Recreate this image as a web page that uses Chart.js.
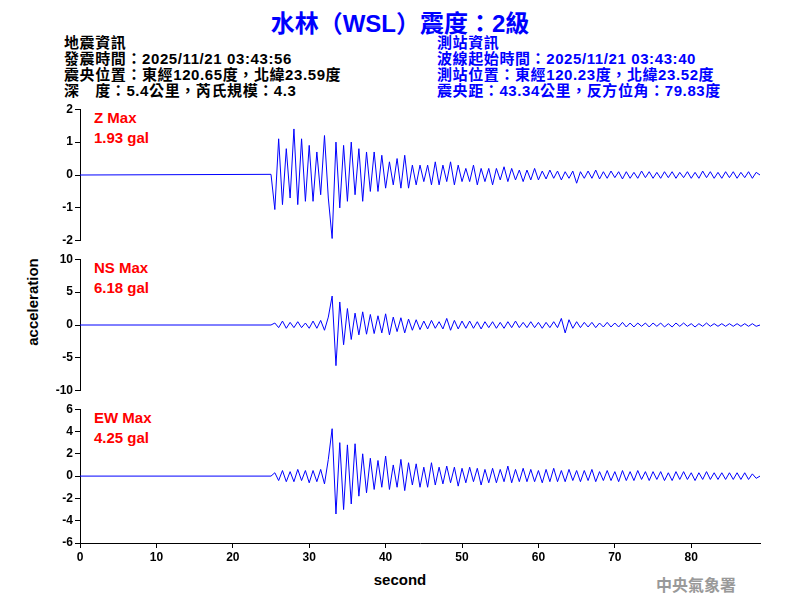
<!DOCTYPE html>
<html>
<head>
<meta charset="utf-8">
<script src="https://cdn.jsdelivr.net/npm/chart.js@4"></script>
<style>
  body { margin: 0; width: 800px; height: 600px; background: #fff; position: relative; overflow: hidden;
    font-family: "Liberation Sans", Arial, "Noto Sans CJK TC", sans-serif; }
  canvas { position: absolute; left: 0; }
  .t { position: absolute; white-space: nowrap; font-weight: bold; }
  .info { font-size: 15px; line-height: 16px; letter-spacing: 0.6px; }
  .red { color: #f00; font-size: 15px; line-height: 20px; }
</style>
</head>
<body>
<div class="t" style="left:0;width:800px;top:4px;text-align:center;color:#00f;font-size:24px;font-family:'Liberation Sans','Noto Sans CJK TC'">水林（WSL）震度：2級</div>
<div class="t info" style="left:64px;top:35px;color:#000;font-family:'Liberation Sans','Noto Sans CJK TC'">地震資訊<br>發震時間：2025/11/21 03:43:56<br>震央位置：東經120.65度，北緯23.59度<br>深　度：5.4公里，芮氏規模：4.3</div>
<div class="t info" style="left:437px;top:35px;color:#00f;font-family:'Liberation Sans','Noto Sans CJK TC'">測站資訊<br>波線起始時間：2025/11/21 03:43:40<br>測站位置：東經120.23度，北緯23.52度<br>震央距：43.34公里，反方位角：79.83度</div>
<div class="t red" style="left:94px;top:108px">Z Max<br>1.93 gal</div>
<div class="t red" style="left:94px;top:258px">NS Max<br>6.18 gal</div>
<div class="t red" style="left:94px;top:408px">EW Max<br>4.25 gal</div>
<div class="t" style="left:32px;top:302px;font-size:15px;transform:translate(-50%,-50%) rotate(-90deg)">acceleration</div>
<div class="t" style="left:400px;top:571px;font-size:15px;transform:translateX(-50%)">second</div>
<div class="t" style="left:656px;top:572px;color:#999;font-size:16px;font-family:'Noto Sans CJK TC'">中央氣象署</div>
<canvas id="cz" width="800" height="150" style="top:100px"></canvas>
<canvas id="cn" width="800" height="150" style="top:250px"></canvas>
<canvas id="ce" width="800" height="200" style="top:400px"></canvas>
<script>
// samples start at T0, one every STEP seconds
const T0 = 25.0;
const STEP = 0.5;
const X_TICKS = [0, 10, 20, 30, 40, 50, 60, 70, 80];

const zValues = [0.02,-1.05,1.1,-0.9,0.8,-0.7,1.4,-0.9,1.1,-0.8,0.9,-0.8,0.7,-0.6,1.2,-0.7,-1.93,1.0,-1.0,0.9,
  -0.8,1.0,-0.6,0.8,-0.8,0.7,-0.5,0.7,-0.5,0.6,-0.4,0.4,-0.3,0.5,-0.4,0.6,-0.4,0.3,-0.3,0.3,
  -0.2,0.3,-0.3,0.4,-0.3,0.3,-0.2,0.4,-0.3,0.3,-0.2,0.2,-0.2,0.3,-0.3,0.2,-0.2,0.2,-0.3,0.2,
  -0.15,0.25,-0.2,0.2,-0.15,0.15,-0.2,0.15,-0.15,0.2,-0.15,0.12,-0.12,0.15,-0.1,0.12,-0.15,0.1,-0.1,0.12,
  -0.25,0.1,-0.1,0.12,-0.1,0.15,-0.12,0.1,-0.1,0.12,-0.08,0.1,-0.12,0.1,-0.1,0.08,-0.1,0.12,-0.08,0.1,
  -0.1,0.08,-0.1,0.1,-0.08,0.1,-0.1,0.08,-0.08,0.1,-0.1,0.08,-0.1,0.12,-0.08,0.1,-0.1,0.08,-0.1,0.1,
  -0.08,0.1,-0.1,0.08,-0.08,0.1,-0.1,0.08,0.0];
const nsValues = [0.0,0.3,-0.4,0.6,-0.5,0.4,-0.4,0.5,-0.4,0.3,-0.5,0.6,-0.5,0.7,-0.8,1.2,4.4,-6.18,3.5,-3.0,
  2.5,-2.2,1.8,-1.5,2.0,-1.4,1.6,-1.3,1.4,-1.2,1.7,-1.5,1.2,-1.0,1.1,-1.2,0.9,-0.8,0.8,-0.7,
  0.6,-0.6,0.7,-0.5,0.5,-0.6,1.0,-0.8,0.7,-0.6,0.6,-0.5,0.6,-0.5,0.5,-0.6,0.5,-0.4,0.5,-0.5,
  0.4,-0.5,0.5,-0.4,0.6,-0.4,0.4,-0.4,0.5,-0.4,0.4,-0.5,0.4,-0.4,0.5,-0.4,1.0,-1.2,0.8,-0.5,
  0.5,-0.4,0.4,-0.3,0.4,-0.4,0.3,-0.3,0.4,-0.3,0.3,-0.3,0.4,-0.3,0.3,-0.3,0.3,-0.2,0.3,-0.3,
  0.3,-0.2,0.3,-0.3,0.2,-0.3,0.3,-0.2,0.3,-0.2,0.2,-0.3,0.2,-0.2,0.3,-0.2,0.2,-0.2,0.2,-0.2,
  0.2,-0.2,0.2,-0.2,0.2,-0.2,0.2,-0.2,0.0];
const ewValues = [0.0,0.3,-0.4,0.5,-0.5,0.4,-0.5,0.6,-0.4,0.5,-0.6,0.5,-0.5,0.6,-0.7,1.5,4.25,-3.4,3.0,-3.0,
  2.8,-2.5,2.9,-1.8,2.0,-1.5,1.6,-1.2,1.4,-1.0,1.8,-1.2,1.0,-1.0,1.5,-1.3,1.2,-0.8,1.1,-1.0,
  0.8,-1.0,1.2,-0.8,0.8,-0.7,0.9,-0.6,0.8,-0.9,0.7,-0.6,0.8,-0.5,0.7,-0.8,0.6,-0.6,0.7,-0.6,
  0.6,-0.5,0.9,-0.6,0.6,-0.5,0.7,-0.5,0.6,-0.5,0.5,-0.6,0.6,-0.5,0.7,-0.5,0.5,-0.5,0.6,-0.4,
  0.5,-0.5,0.5,-0.4,0.6,-0.5,0.4,-0.4,0.5,-0.4,0.4,-0.5,0.5,-0.4,0.4,-0.4,0.5,-0.3,0.4,-0.4,
  0.4,-0.3,0.4,-0.4,0.3,-0.4,0.4,-0.3,0.4,-0.3,0.3,-0.4,0.3,-0.3,0.4,-0.3,0.3,-0.3,0.3,-0.3,
  0.3,-0.3,0.3,-0.3,0.3,-0.3,0.2,-0.2,0.0];

const zTicks = [-2, -1, 0, 1, 2];
const nsTicks = [-10, -5, 0, 5, 10];
const ewTicks = [-6, -4, -2, 0, 2, 4, 6];

const tickFont = { family: 'Liberation Sans', size: 12, weight: 'bold' };

function toPoints(values) {
  const pts = [{ x: 0, y: 0 }];
  values.forEach(function(v, i) { pts.push({ x: T0 + i * STEP, y: v }); });
  return pts;
}

function makeChart(id, values, yTicks, showX) {
  const yMin = yTicks[0], yMax = yTicks[yTicks.length - 1];
  return new Chart(document.getElementById(id), {
    type: 'line',
    data: { datasets: [{ data: toPoints(values), borderColor: '#0000ff', borderWidth: 1, pointRadius: 0, tension: 0 }] },
    options: {
      responsive: false, animation: false,
      layout: { padding: { top: 8, right: 40, bottom: showX ? 17 : 7, left: 0 } },
      plugins: { legend: { display: false }, tooltip: { enabled: false } },
      scales: {
        x: {
          type: 'linear', min: 0, max: 89, display: showX,
          afterBuildTicks: function(s) { s.ticks = X_TICKS.map(function(v) { return { value: v }; }); },
          afterFit: function(s) { if (showX) s.height = 40; },
          ticks: { color: '#000', font: tickFont, padding: 2 },
          grid: { drawOnChartArea: false, color: '#000', tickLength: 5, tickColor: '#000' },
          border: { color: '#000', width: 1 }
        },
        y: {
          min: yMin, max: yMax,
          afterBuildTicks: function(s) { s.ticks = yTicks.map(function(v) { return { value: v }; }); },
          afterFit: function(s) { s.width = 80; },
          ticks: { color: '#000', font: tickFont, padding: 2 },
          grid: { drawOnChartArea: false, tickLength: 5, tickColor: '#000' },
          border: { color: '#000', width: 1 }
        }
      }
    }
  });
}

makeChart('cz', zValues, zTicks, false);
makeChart('cn', nsValues, nsTicks, false);
makeChart('ce', ewValues, ewTicks, true);
</script>
</body>
</html>
